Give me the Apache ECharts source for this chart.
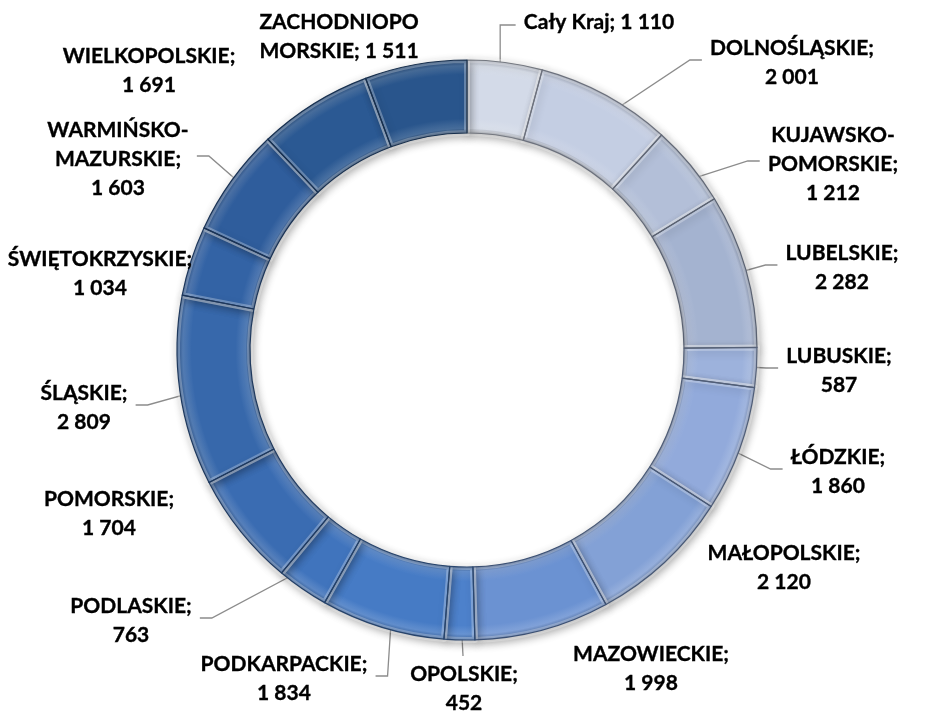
<!DOCTYPE html>
<html>
<head>
<meta charset="utf-8">
<script src="https://cdn.jsdelivr.net/npm/echarts@6/dist/echarts.min.js"></script>
<style>
html,body{margin:0;padding:0;background:#fff;}
#chart{width:925px;height:711px;}
</style>
</head>
<body>
<div id="chart"></div>
<script>
// ---- data ----
const categories = ['Cały Kraj','DOLNOŚLĄSKIE','KUJAWSKO-POMORSKIE','LUBELSKIE','LUBUSKIE','ŁÓDZKIE','MAŁOPOLSKIE','MAZOWIECKIE','OPOLSKIE','PODKARPACKIE','PODLASKIE','POMORSKIE','ŚLĄSKIE','ŚWIĘTOKRZYSKIE','WARMIŃSKO-MAZURSKIE','WIELKOPOLSKIE','ZACHODNIOPOMORSKIE'];
const values = [1110,2001,1212,2282,587,1860,2120,1998,452,1834,763,1704,2809,1034,1603,1691,1511];

// ---- style / layout ----
const colors = ['#d3dae8','#c4cee3','#b3bfd8','#a4b3d0','#9db2dc','#92aadb','#83a1d6','#6b92d2','#4d81cb','#467bc5','#4074bd','#3a6cb2','#3768ab','#3363a5','#2f5d9c','#2b5993','#29558c'];
const CX = 467, CY = 350, R_IN = 217, R_OUT = 290;
const labelSpec = [
  {x:599,y:22,line:'up'},
  {x:792,y:63,line:'right'},
  {x:833,y:164,line:'right'},
  {x:842,y:268,line:'right'},
  {x:839,y:371,line:'right'},
  {x:838,y:472,line:'right'},
  {x:784,y:568,line:null},
  {x:651,y:669,line:null},
  {x:464,y:689,line:'down'},
  {x:284,y:679,line:'left'},
  {x:131,y:621,line:'left'},
  {x:109,y:514,line:null},
  {x:84,y:408,line:'left'},
  {x:100,y:274,line:null},
  {x:118,y:159,line:'left'},
  {x:149,y:71,line:null},
  {x:339,y:37,line:null}
];

function fmt(v){ return String(v).replace(/\B(?=(\d{3})+(?!\d))/g,' '); }
function labelText(name, v){
  const val = fmt(v);
  if (name === 'Cały Kraj') return name + '; ' + val;
  if (name === 'ZACHODNIOPOMORSKIE') return 'ZACHODNIOPO\nMORSKIE; ' + val;
  if (name.indexOf('-') > 0) { const p = name.split('-'); return p[0] + '-\n' + p[1] + ';\n' + val; }
  return name + ';\n' + val;
}
function shade(hex, amt){
  const n = parseInt(hex.slice(1),16);
  let r=(n>>16)&255,g=(n>>8)&255,b=n&255;
  const f = c => Math.max(0,Math.min(255,Math.round(amt<0 ? c*(1+amt) : c+(255-c)*amt)));
  return 'rgb('+f(r)+','+f(g)+','+f(b)+')';
}
const total = values.reduce((a,b)=>a+b,0);
const midAngles = [];
{ let acc = 0; values.forEach(v => { midAngles.push((acc + v/2)/total*2*Math.PI); acc += v; }); }

const baseData = categories.map((c,i)=>({
  name: c,
  value: values[i],
  itemStyle: {
    color: {
      type:'radial', x: CX, y: CY, r: R_OUT, global: true,
      colorStops: [
        {offset: 0, color: colors[i]},
        {offset: R_IN/R_OUT, color: shade(colors[i], -0.35)},
        {offset: R_IN/R_OUT + 0.015, color: shade(colors[i], 0.15)},
        {offset: R_IN/R_OUT + 0.05, color: colors[i]},
        {offset: 0.95, color: colors[i]},
        {offset: 0.98, color: shade(colors[i], 0.15)},
        {offset: 1, color: shade(colors[i], -0.2)}
      ]
    },
    borderColor: 'rgba(255,255,255,0.28)',
    borderWidth: 6
  }
}));
const topData = categories.map((c,i)=>({
  name: c,
  value: values[i],
  labelLine: { show: !!labelSpec[i].line },
  itemStyle: { color: 'rgba(0,0,0,0)', borderColor: shade(colors[i], -0.45), borderWidth: 1.2 }
}));

const chart = echarts.init(document.getElementById('chart'));
chart.setOption({
  backgroundColor: '#fff',
  animation: false,
  series: [{
    type: 'pie',
    center: [CX, CY],
    radius: [R_IN, R_OUT],
    startAngle: 90,
    clockwise: true,
    silent: true,
    label: { show: false },
    labelLine: { show: false },
    itemStyle: { shadowBlur: 8, shadowColor: 'rgba(0,0,0,0.35)', shadowOffsetX: 2, shadowOffsetY: 3 },
    data: baseData
  }, {
    type: 'pie',
    center: [CX, CY],
    radius: [R_IN, R_OUT],
    startAngle: 90,
    clockwise: true,
    avoidLabelOverlap: false,
    label: {
      show: true,
      position: 'outside',
      formatter: p => labelText(p.name, p.value),
      fontFamily: 'Lato',
      fontWeight: 'bold',
      fontSize: 21,
      lineHeight: 29,
      color: '#000',
      textBorderColor: '#000',
      textBorderWidth: 0.35,
      align: 'center'
    },
    labelLine: { show: true, lineStyle: { color: '#8c8c8c', width: 1.3 } },
    labelLayout: function(params){
      const i = params.dataIndex;
      const s = labelSpec[i];
      const w = params.labelRect.width, h = params.labelRect.height;
      const res = { x: s.x, y: s.y, align: 'center', verticalAlign: 'middle' };
      if (s.line) {
        const a = midAngles[i];
        const rm = (R_IN + R_OUT)/2;
        const start = [CX + rm*Math.sin(a), CY - rm*Math.cos(a)];
        let elbow, end;
        if (s.line === 'right') { end = [s.x - w/2 - 8, s.y - 3]; elbow = [end[0]-12, end[1]]; }
        else if (s.line === 'left') { end = [s.x + w/2 + 8, s.y - 3]; elbow = [end[0]+12, end[1]]; }
        else if (s.line === 'up') { end = [s.x - w/2 - 8, s.y + 3]; elbow = [start[0], end[1]]; }
        else { end = [s.x - 1, s.y - h/2 - 4]; elbow = end; }
        res.labelLinePoints = [start, elbow, end];
      }
      return res;
    },
    data: topData
  }]
});
</script>
</body>
</html>
